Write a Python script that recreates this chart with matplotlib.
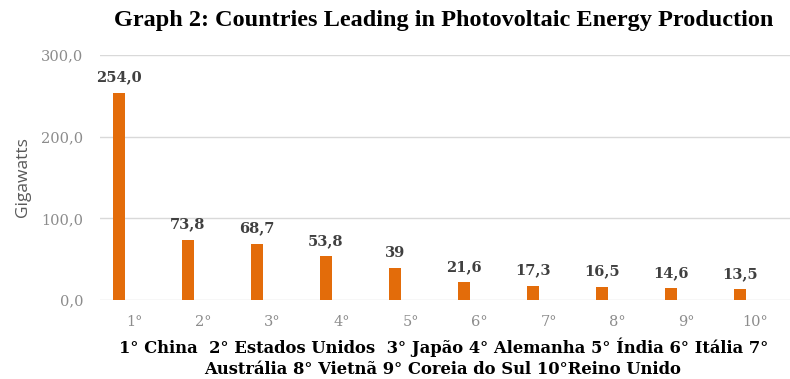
import matplotlib.pyplot as plt
import numpy as np

ranks = ['1°', '2°', '3°', '4°', '5°', '6°', '7°', '8°', '9°', '10°']
gigawatts = [254.0, 73.8, 68.7, 53.8, 39, 21.6, 17.3, 16.5, 14.6, 13.5]
value_labels = ['254,0', '73,8', '68,7', '53,8', '39', '21,6', '17,3', '16,5', '14,6', '13,5']
y_ticks = [0, 100, 200, 300]
y_tick_labels = ['0,0', '100,0', '200,0', '300,0']

times = ['Liberation Serif', 'DejaVu Serif']
serif = ['DejaVu Serif']

fig = plt.figure(figsize=(7.9, 3.79), dpi=100)
ax = fig.add_axes([0.1266, 0.2084, 0.8734, 0.6465])

x = np.arange(len(ranks))
# bars sit left of the category centre (excel clustered style)
bar_x = x - 0.23
ax.bar(bar_x, gigawatts, width=0.175, color='#E36C0A', zorder=3)

for i, v in enumerate(gigawatts):
    ax.annotate(value_labels[i], (bar_x[i], v), xytext=(0, 11), textcoords='offset points',
                ha='center', va='center', fontsize=10.5, fontweight='bold',
                color='#404040', family=serif)

ax.set_ylim(0, 300)
ax.set_xlim(-0.5, 9.5)
ax.set_yticks(y_ticks)
ax.set_yticklabels(y_tick_labels, family=serif, fontsize=10.5, color='#8c8c8c')
ax.set_xticks(x)
ax.set_xticklabels(ranks, family=serif, fontsize=10.5, color='#8c8c8c')
ax.tick_params(length=0)
ax.tick_params(axis='x', pad=11)
ax.tick_params(axis='y', pad=12)
ax.grid(axis='y', color='#d9d9d9', linewidth=1, zorder=0)
for s in ax.spines.values():
    s.set_visible(False)
ax.set_ylabel('Gigawatts', family=['Open Sans', 'DejaVu Sans'], fontsize=12.5, color='#595959')
ax.yaxis.set_label_coords(-0.1, 0.5)

fig.text(0.561, 0.947, 'Graph 2: Countries Leading in Photovoltaic Energy Production',
         ha='center', va='center', fontsize=17.5, fontweight='bold', family=times)
fig.text(0.561, 0.084, '1° China  2° Estados Unidos  3° Japão 4° Alemanha 5° Índia 6° Itália 7°',
         ha='center', va='center', fontsize=11.8, fontweight='bold', family=serif)
fig.text(0.56, 0.024, 'Austrália 8° Vietnã 9° Coreia do Sul 10°Reino Unido',
         ha='center', va='center', fontsize=11.8, fontweight='bold', family=serif)

fig.savefig('out.png', dpi=100)
